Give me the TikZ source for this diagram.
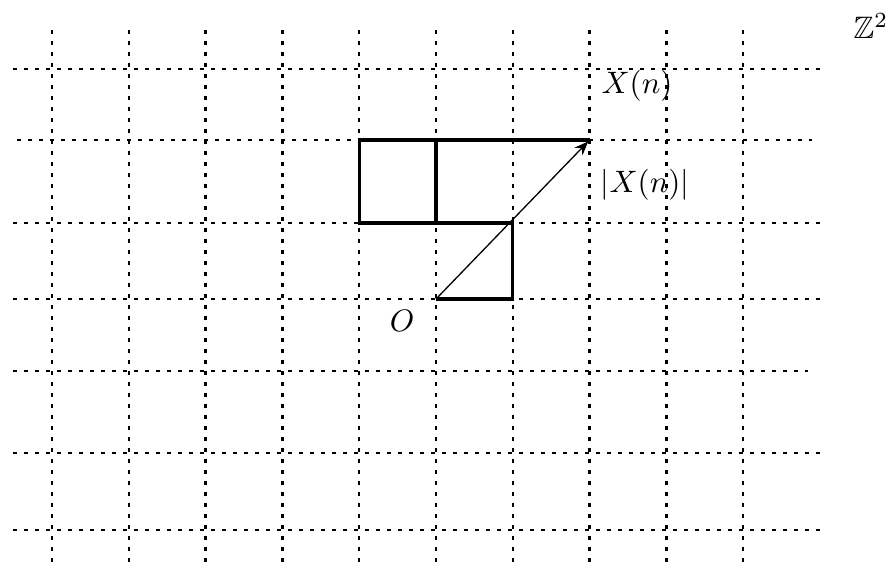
\documentclass[tikz,border=0pt]{standalone}
\usepackage{amssymb}
\usetikzlibrary{arrows.meta}
\tikzset{
  gridline/.style={dash pattern=on 4pt off 7pt, line width=2.4pt},
  walk/.style={line width=3.2pt},
  vec/.style={-{Stealth[length=14pt, width=11pt]}, line width=1.3pt, shorten >=2pt},
  lbl/.style={inner sep=0pt},
}
\newcommand{\biglbl}[1]{\scalebox{3.1}{#1}}
\begin{document}
\begin{tikzpicture}[x=1pt, y=-1pt]
  \useasboundingbox (0,0) rectangle (888,566);
  % the lattice
  \foreach \i in {0,...,9}
    \draw[gridline] ({52+76.8*\i},30) -- ({52+76.8*\i},566);
  \foreach \y/\a/\b in {69/13/820, 140/17/812, 223/13/820, 299/13/820, 371/13/808, 453/13/820, 530/13/820}
    \draw[gridline] (\a,\y) -- (\b,\y);
  % lattice points used by the walk
  \coordinate (O) at (436,299);
  \coordinate (A) at (512.8,299);
  \coordinate (B) at (512.8,223);
  \coordinate (C) at (436,223);
  \coordinate (D) at (359.2,223);
  \coordinate (E) at (359.2,140);
  \coordinate (F) at (436,140);
  \coordinate (Xn) at (589.6,140);
  % the walk
  \draw[walk] (O) -- (A) -- (B) -- (D) -- (E) -- (Xn);
  \draw[walk] (C) -- (F);
  \draw[vec] (O) -- (Xn);
  % labels
  \node[lbl] (lo) at (402,321) {\biglbl{$O$}};
  \node[lbl] (lx) at (637,86) {\biglbl{$X(n)$}};
  \node[lbl] (ld) at (645,185) {\biglbl{$|X(n)|$}};
  \node[lbl] (lz) at (871,26) {\biglbl{$\mathbb{Z}^2$}};
\end{tikzpicture}
\end{document}
